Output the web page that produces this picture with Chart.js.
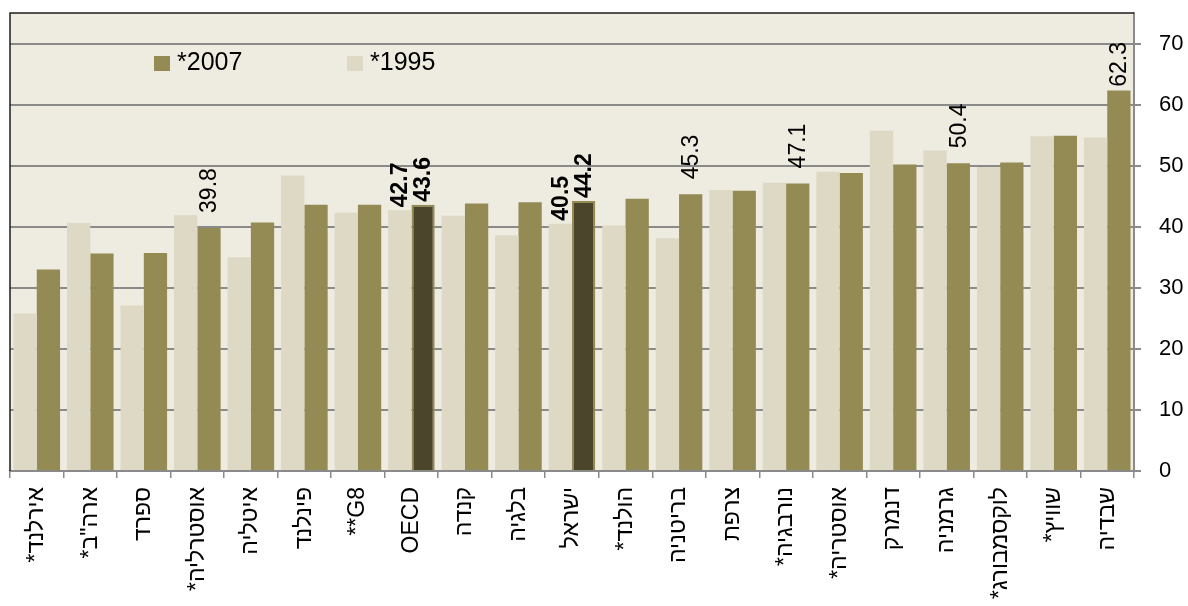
<!DOCTYPE html>
<html lang="he">
<head>
<meta charset="utf-8" />
<script src="https://cdn.jsdelivr.net/npm/chart.js@4.4.1/dist/chart.umd.min.js"></script>
<style>
  html, body { margin: 0; padding: 0; background: #ffffff; }
  #wrap { width: 1188px; height: 606px; position: relative; }
</style>
</head>
<body>
<div id="wrap"><canvas id="chart" width="1188" height="606"></canvas></div>
<script>
// categories, left to right (logical order, rendered in an LTR canvas)
const countries = [
  "*אירלנד", "*ארה\"ב", "ספרד", "*אוסטרליה", "איטליה", "פינלנד", "**G8", "OECD",
  "קנדה", "בלגיה", "ישראל", "*הולנד", "בריטניה", "צרפת", "*נורבגיה", "*אוסטריה",
  "דנמרק", "גרמניה", "*לוקסמבורג", "*שוויץ", "שבדיה",
];
const values1995 = [
  25.8, 40.6, 27.1, 41.9, 35.0, 48.4, 42.3, 42.7, 41.8, 38.6, 40.5,
  40.2, 38.1, 46.0, 47.2, 49.0, 55.7, 52.5, 49.8, 54.8, 54.6,
];
const values2007 = [
  33.0, 35.6, 35.7, 39.8, 40.7, 43.6, 43.6, 43.6, 43.8, 44.0, 44.2,
  44.6, 45.3, 45.9, 47.1, 48.8, 50.2, 50.4, 50.5, 54.9, 62.3,
];
const seriesNames = ["*1995", "*2007"];
const yTicks = [0, 10, 20, 30, 40, 50, 60, 70];

// which bars carry a value label, and which ones are highlighted
const labelled1995 = ["OECD", "ישראל"];
const labelled2007 = ["*אוסטרליה", "OECD", "ישראל", "בריטניה", "*נורבגיה", "גרמניה", "שבדיה"];
const highlighted = ["OECD", "ישראל"];

const C = {
  light: "#ddd9c4",
  olive: "#948b54",
  dark: "#4a452b",
  plot: "#eeebe0",
  grid: "#8a8a8a",
  frame: "#1e1e1e",
  text: "#000000",
};
const FONT = "'Liberation Sans', Arial, sans-serif";

const plotBackground = {
  id: "plotBackground",
  beforeDraw(chart) {
    const { ctx, chartArea: a } = chart;
    ctx.save();
    ctx.fillStyle = C.plot;
    ctx.fillRect(a.left, a.top, a.right - a.left, a.bottom - a.top);
    ctx.restore();
  },
  afterDraw(chart) {
    const { ctx, chartArea: a } = chart;
    ctx.save();
    ctx.strokeStyle = C.frame;
    ctx.lineWidth = 1.5;
    ctx.beginPath();
    ctx.moveTo(a.left, a.bottom);
    ctx.lineTo(a.left, a.top);
    ctx.lineTo(a.right, a.top);
    ctx.stroke();
    ctx.restore();
  },
};

const insideLegend = {
  id: "insideLegend",
  afterDatasetsDraw(chart) {
    const { ctx, chartArea: a } = chart;
    const items = [
      [chart.data.datasets[1].label, C.olive, a.left + 144],
      [chart.data.datasets[0].label, C.light, a.left + 337],
    ];
    ctx.save();
    ctx.font = `25px ${FONT}`;
    ctx.textBaseline = "alphabetic";
    ctx.textAlign = "left";
    for (const [text, color, x] of items) {
      ctx.fillStyle = color;
      ctx.fillRect(x, a.top + 43, 16, 15);
      ctx.fillStyle = C.text;
      ctx.fillText(text, x + 23, a.top + 57);
    }
    ctx.restore();
  },
};

const valueLabels = {
  id: "valueLabels",
  afterDatasetsDraw(chart) {
    const { ctx, chartArea: a } = chart;
    const picks = [labelled1995, labelled2007];
    ctx.save();
    chart.data.datasets.forEach((ds, di) => {
      const meta = chart.getDatasetMeta(di);
      meta.data.forEach((bar, i) => {
        const name = chart.data.labels[i];
        if (!picks[di].includes(name)) return;
        const bold = highlighted.includes(name);
        const text = Number(ds.data[i]).toFixed(1);
        ctx.font = `${bold ? "bold " : ""}23px ${FONT}`;
        const len = ctx.measureText(text).width;
        let base = bar.y - (bold ? 3 : 15);
        base = Math.max(base, a.top + 29 + len);
        ctx.save();
        ctx.translate(bar.x, base);
        ctx.rotate(-Math.PI / 2);
        ctx.textAlign = "left";
        ctx.textBaseline = "middle";
        ctx.fillStyle = C.text;
        ctx.fillText(text, 0, 1);
        ctx.restore();
      });
    });
    ctx.restore();
  },
};

const darkFill = countries.map((c) => (highlighted.includes(c) ? C.dark : C.olive));
const darkBorder = countries.map((c) => (highlighted.includes(c) ? 2 : 0));

new Chart(document.getElementById("chart"), {
  type: "bar",
  data: {
    labels: countries,
    datasets: [
      {
        label: seriesNames[0],
        data: values1995,
        backgroundColor: C.light,
        borderWidth: 0,
      },
      {
        label: seriesNames[1],
        data: values2007,
        backgroundColor: darkFill,
        borderColor: C.olive,
        borderWidth: darkBorder,
        borderSkipped: "bottom",
      },
    ],
  },
  options: {
    responsive: false,
    animation: false,
    events: [],
    layout: { padding: { left: 10, top: 13, right: 0, bottom: 0 } },
    datasets: { bar: { categoryPercentage: 0.87, barPercentage: 1.0 } },
    plugins: {
      legend: { display: false },
      tooltip: { enabled: false },
    },
    scales: {
      x: {
        offset: true,
        grid: {
          offset: true,
          drawOnChartArea: false,
          drawTicks: true,
          tickLength: 7,
          color: C.grid,
          lineWidth: 1.5,
        },
        border: { display: true, color: C.grid, width: 2 },
        ticks: {
          autoSkip: false,
          minRotation: 90,
          maxRotation: 90,
          padding: 9,
          color: C.text,
          font: { family: FONT, size: 23 },
        },
        afterFit: (scale) => {
          scale.height = 135;
          scale.paddingLeft = 0;
          scale.paddingRight = 0;
        },
      },
      y: {
        position: "right",
        min: 0,
        max: 75,
        grid: {
          color: C.grid,
          lineWidth: 2,
          tickLength: 7,
        },
        border: { display: true, color: C.grid, width: 2 },
        ticks: {
          includeBounds: false,
          stepSize: 10,
          padding: 18,
          color: C.text,
          font: { family: FONT, size: 22 },
          callback: (v) => (yTicks.includes(v) ? String(v) : ""),
        },
        afterFit: (scale) => {
          scale.width = 54;
          scale.paddingTop = 0;
          scale.paddingBottom = 0;
        },
      },
    },
  },
  plugins: [plotBackground, insideLegend, valueLabels],
});
</script>
</body>
</html>
